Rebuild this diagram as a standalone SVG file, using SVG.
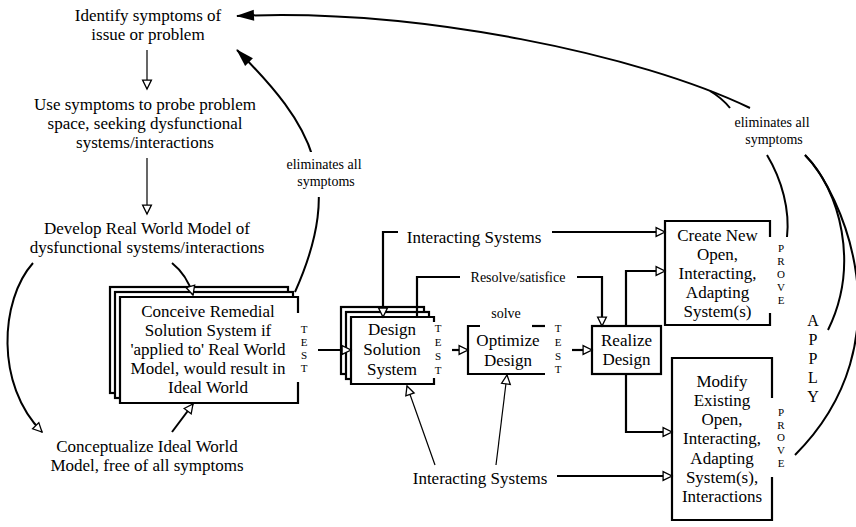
<svg xmlns="http://www.w3.org/2000/svg" width="856" height="527" viewBox="0 0 856 527">
  <style>
    text { font-family: "Liberation Serif", "Times New Roman", serif; fill: #000; text-anchor: middle; }
    .n { font-size: 17px; }
    .s { font-size: 14px; }
    .v { font-size: 11px; }
    .ap { font-size: 16px; }
    .box { fill: #fff; stroke: #000; stroke-width: 2.2; }
    .fill { fill: #fff; stroke: none; }
    .edge { fill: none; stroke: #000; stroke-width: 2.2; stroke-linejoin: miter; }
    .curve { fill: none; stroke: #000; stroke-width: 2; }
    .thin { fill: none; stroke: #000; stroke-width: 1.2; }
  </style>
  <defs>
    <marker id="tri" viewBox="0 0 10 10" refX="9.5" refY="5" markerWidth="10" markerHeight="10" markerUnits="userSpaceOnUse" orient="auto" style="overflow:visible">
      <path d="M0.6,0.6 L9.5,5 L0.6,9.4 Z" fill="#fff" stroke="#000" stroke-width="1.3"/>
    </marker>
    <marker id="solid" viewBox="0 0 18 11" refX="17" refY="5.5" markerWidth="18" markerHeight="11" markerUnits="userSpaceOnUse" orient="auto" style="overflow:visible">
      <path d="M0,0 L18,5.5 L0,11 Z" fill="#000"/>
    </marker>
  </defs>

  <!-- problem-space steps (plain text nodes) -->
  <g id="identify">
    <text class="n" x="148" y="21">Identify symptoms of</text>
    <text class="n" x="148" y="40">issue or problem</text>
  </g>
  <g id="probe">
    <text class="n" x="145" y="110">Use symptoms to probe problem</text>
    <text class="n" x="145" y="129">space, seeking dysfunctional</text>
    <text class="n" x="145" y="148">systems/interactions</text>
  </g>
  <g id="real-world">
    <text class="n" x="147" y="234">Develop Real World Model of</text>
    <text class="n" x="147" y="253">dysfunctional systems/interactions</text>
  </g>
  <g id="ideal-world">
    <text class="n" x="147" y="452">Conceptualize Ideal World</text>
    <text class="n" x="147" y="471">Model, free of all symptoms</text>
  </g>

  <!-- stacked box: remedial solution concepts -->
  <g id="conceive">
    <rect class="box" x="110" y="287" width="178" height="106"/>
    <rect class="box" x="115" y="292" width="178" height="106"/>
    <rect class="fill" x="120" y="297" width="178" height="106"/>
    <path class="edge" d="M298,313 L298,297 L120,297 L120,403 L298,403 L298,382"/>
    <text class="n" x="208" y="317">Conceive Remedial</text>
    <text class="n" x="208" y="336">Solution System if</text>
    <text class="n" x="208" y="355">'applied to' Real World</text>
    <text class="n" x="208" y="374">Model, would result in</text>
    <text class="n" x="208" y="393">Ideal World</text>
    <text class="v" x="304" y="333">T</text>
    <text class="v" x="304" y="346">E</text>
    <text class="v" x="304" y="359">S</text>
    <text class="v" x="304" y="372">T</text>
  </g>

  <!-- stacked box: design alternatives -->
  <g id="design">
    <rect class="box" x="341" y="307" width="83" height="67"/>
    <rect class="box" x="346" y="312" width="83" height="67"/>
    <rect class="fill" x="351" y="317" width="83" height="67"/>
    <path class="edge" d="M434,322 L434,317 L351,317 L351,384 L434,384 L434,378"/>
    <text class="n" x="392" y="335">Design</text>
    <text class="n" x="392" y="355">Solution</text>
    <text class="n" x="392" y="375">System</text>
    <text class="v" x="438" y="332">T</text>
    <text class="v" x="438" y="346">E</text>
    <text class="v" x="438" y="360">S</text>
    <text class="v" x="438" y="374">T</text>
  </g>

  <g id="optimize">
    <rect class="fill" x="468" y="326" width="77" height="48"/>
    <path class="edge" d="M480,326 L468,326 L468,374 L545,374"/>
    <path class="edge" d="M532,326 L545,326"/>
    <text class="s" x="506" y="318">solve</text>
    <text class="n" x="508" y="346">Optimize</text>
    <text class="n" x="508" y="366">Design</text>
    <text class="v" x="558" y="332">T</text>
    <text class="v" x="558" y="346">E</text>
    <text class="v" x="558" y="360">S</text>
    <text class="v" x="558" y="373">T</text>
  </g>

  <g id="realize">
    <rect class="box" x="592" y="326" width="69" height="48"/>
    <text class="n" x="626.5" y="346">Realize</text>
    <text class="n" x="626.5" y="365">Design</text>
  </g>

  <g id="create-new">
    <rect class="fill" x="665" y="221" width="105" height="104"/>
    <path class="edge" d="M770,237 L770,221 L665,221 L665,325 L770,325 L770,313"/>
    <text class="n" x="717.5" y="241">Create New</text>
    <text class="n" x="717.5" y="260">Open,</text>
    <text class="n" x="717.5" y="279">Interacting,</text>
    <text class="n" x="717.5" y="298">Adapting</text>
    <text class="n" x="717.5" y="317">System(s)</text>
    <text class="v" x="781" y="252">P</text>
    <text class="v" x="781" y="265">R</text>
    <text class="v" x="781" y="278">O</text>
    <text class="v" x="781" y="291">V</text>
    <text class="v" x="781" y="304">E</text>
  </g>

  <g id="modify">
    <rect class="fill" x="672" y="358" width="100" height="162"/>
    <path class="edge" d="M772,398 L772,358 L672,358 L672,520 L772,520 L772,477"/>
    <text class="n" x="722" y="387">Modify</text>
    <text class="n" x="722" y="406">Existing</text>
    <text class="n" x="722" y="425">Open,</text>
    <text class="n" x="722" y="444">Interacting,</text>
    <text class="n" x="722" y="464">Adapting</text>
    <text class="n" x="722" y="483">System(s),</text>
    <text class="n" x="722" y="502">Interactions</text>
    <text class="v" x="781" y="416">P</text>
    <text class="v" x="781" y="429">R</text>
    <text class="v" x="781" y="441">O</text>
    <text class="v" x="781" y="454">V</text>
    <text class="v" x="781" y="467">E</text>
  </g>

  <g id="apply">
    <text class="ap" x="813" y="326">A</text>
    <text class="ap" x="813" y="345">P</text>
    <text class="ap" x="813" y="364">P</text>
    <text class="ap" x="813" y="383">L</text>
    <text class="ap" x="813" y="402">Y</text>
  </g>

  <g id="connectors">
    <!-- problem-space chain -->
    <path class="thin" d="M147,50 L147,89" marker-end="url(#tri)"/>
    <path class="thin" d="M147,158 L147,214" marker-end="url(#tri)"/>
    <path class="curve" d="M33,263 C0,300 -5,385 42,432" marker-end="url(#tri)"/>
    <path class="curve" d="M172,263 Q187,275 193,295" marker-end="url(#tri)"/>
    <path class="curve" d="M172,432 L193,404" marker-end="url(#tri)"/>

    <!-- test result loops back to the symptoms -->
    <path class="curve" d="M295,292 C345,180 312,125 237,50" marker-end="url(#solid)"/>
    <rect class="fill" x="284" y="152" width="80" height="45"/>
    <text class="s" x="324" y="169">eliminates all</text>
    <text class="s" x="326" y="186">symptoms</text>

    <!-- design flow -->
    <path class="edge" d="M318,350 L351,350" marker-end="url(#tri)"/>
    <path class="edge" d="M452,350 L468,350" marker-end="url(#tri)"/>
    <path class="edge" d="M572,350 L592,350" marker-end="url(#tri)"/>

    <!-- interacting systems (top) -->
    <path class="edge" d="M398,232 L383,232 L383,317" marker-end="url(#tri)"/>
    <text class="n" x="474" y="243">Interacting Systems</text>
    <path class="edge" d="M552,232 L665,232" marker-end="url(#tri)"/>

    <!-- resolve / satisfice feedback -->
    <path class="edge" d="M460,277 L417,277 L417,317"/>
    <text class="s" x="518" y="282">Resolve/satisfice</text>
    <path class="edge" d="M577,277 L602,277 L602,326" marker-end="url(#tri)"/>

    <!-- realize outputs -->
    <path class="edge" d="M626,326 L626,271 L665,271" marker-end="url(#tri)"/>
    <path class="edge" d="M626,374 L626,432 L672,432" marker-end="url(#tri)"/>

    <!-- interacting systems (bottom) -->
    <text class="n" x="480" y="484">Interacting Systems</text>
    <path class="thin" d="M435,465 L407,386" marker-end="url(#tri)"/>
    <path class="thin" d="M496,465 L507,375" marker-end="url(#tri)"/>
    <path class="edge" d="M557,476 L672,476" marker-end="url(#tri)"/>

    <!-- prove / apply loops back to the symptoms -->
    <path class="curve" d="M750,108 C640,55 420,8 237,16" marker-end="url(#solid)"/>
    <path class="curve" d="M730,108 Q722,98 710,91"/>
    <text class="s" x="772" y="127">eliminates all</text>
    <text class="s" x="774" y="144">symptoms</text>
    <path class="curve" d="M767,155 C782,180 790,210 787,237"/>
    <path class="curve" d="M805,155 C840,190 860,265 828,330"/>
    <path class="curve" d="M805,155 C840,190 910,340 795,455"/>
  </g>
</svg>
